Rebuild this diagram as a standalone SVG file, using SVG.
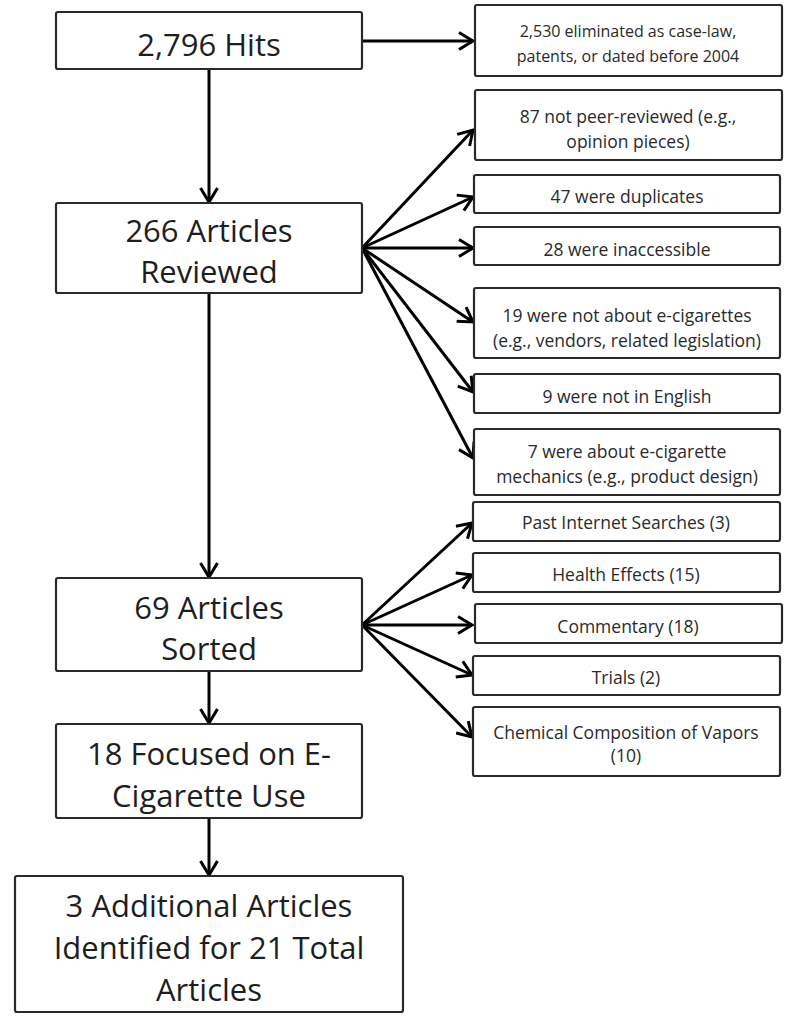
<svg xmlns="http://www.w3.org/2000/svg" width="800" height="1022" viewBox="0 0 800 1022">
<style>
.box{fill:#fff;stroke:#2a2a2a;stroke-width:2.2}
.big{font-family:"Open Sans","Liberation Sans",sans-serif;font-size:31px;fill:#1e1e1e;text-anchor:middle}
.sm{font-family:"Open Sans","Liberation Sans",sans-serif;font-size:17.5px;fill:#2a2a2a;text-anchor:middle}
.sm.n{font-size:16px}
.con line{stroke:#000;stroke-width:3;marker-end:url(#ah)}
</style>
<defs>
<marker id="ah" viewBox="0 0 20 20" refX="17" refY="10" markerUnits="userSpaceOnUse" markerWidth="20" markerHeight="20" orient="auto">
<path d="M3,1.5 L17,10 L3,18.5" fill="none" stroke="#000" stroke-width="3"/>
</marker>
</defs>
<rect width="800" height="1022" fill="#fff"/>
<g class="con">
<line x1="209" y1="69" x2="209" y2="202"/>
<line x1="209" y1="293" x2="209" y2="577"/>
<line x1="209" y1="671" x2="209" y2="723"/>
<line x1="209" y1="818" x2="209" y2="875"/>
<line x1="362" y1="41" x2="473" y2="41"/>
<line x1="362" y1="248" x2="473" y2="130"/>
<line x1="362" y1="248" x2="473" y2="197"/>
<line x1="362" y1="248" x2="473" y2="248"/>
<line x1="362" y1="248" x2="473" y2="322"/>
<line x1="362" y1="248" x2="473" y2="392"/>
<line x1="362" y1="248" x2="473" y2="458"/>
<line x1="362" y1="625" x2="472" y2="523"/>
<line x1="362" y1="625" x2="472" y2="575"/>
<line x1="362" y1="625" x2="472" y2="625"/>
<line x1="362" y1="625" x2="472" y2="675"/>
<line x1="362" y1="625" x2="472" y2="737"/>
</g>
<g id="n-hits"><rect class="box" x="56" y="12" width="306" height="57" rx="2"/><text class="big" x="209" y="56">2,796 Hits</text></g>
<g id="n-reviewed"><rect class="box" x="56" y="203" width="306" height="90" rx="2"/><text class="big" x="209" y="242">266 Articles</text><text class="big" x="209" y="283">Reviewed</text></g>
<g id="n-sorted"><rect class="box" x="56" y="578" width="306" height="93" rx="2"/><text class="big" x="209" y="619">69 Articles</text><text class="big" x="209" y="660">Sorted</text></g>
<g id="n-focused"><rect class="box" x="56" y="724" width="306" height="94" rx="2"/><text class="big" x="209" y="765">18 Focused on E-</text><text class="big" x="209" y="807">Cigarette Use</text></g>
<g id="n-total"><rect class="box" x="15" y="876" width="388" height="136" rx="2"/><text class="big" x="209" y="917">3 Additional Articles</text><text class="big" x="209" y="959">Identified for 21 Total</text><text class="big" x="209" y="1001">Articles</text></g>
<g id="r-eliminated"><rect class="box" x="475" y="5" width="307" height="71" rx="2"/><text class="sm n" x="628" y="37">2,530 eliminated as case-law,</text><text class="sm n" x="628" y="62">patents, or dated before 2004</text></g>
<g id="r-peer"><rect class="box" x="475" y="90" width="307" height="70" rx="2"/><text class="sm" x="628" y="123">87 not peer-reviewed (e.g.,</text><text class="sm" x="628" y="148">opinion pieces)</text></g>
<g id="r-dup"><rect class="box" x="474" y="175" width="306" height="38" rx="2"/><text class="sm" x="627" y="203">47 were duplicates</text></g>
<g id="r-inacc"><rect class="box" x="474" y="227" width="306" height="38" rx="2"/><text class="sm" x="627" y="256">28 were inaccessible</text></g>
<g id="r-notabout"><rect class="box" x="474" y="288" width="306" height="70" rx="2"/><text class="sm" x="627" y="322">19 were not about e-cigarettes</text><text class="sm" x="627" y="347">(e.g., vendors, related legislation)</text></g>
<g id="r-english"><rect class="box" x="474" y="374" width="306" height="39" rx="2"/><text class="sm" x="627" y="403">9 were not in English</text></g>
<g id="r-mech"><rect class="box" x="474" y="429" width="306" height="66" rx="2"/><text class="sm" x="627" y="458">7 were about e-cigarette</text><text class="sm" x="627" y="483">mechanics (e.g., product design)</text></g>
<g id="r-past"><rect class="box" x="473" y="502" width="307" height="39" rx="2"/><text class="sm" x="626" y="529">Past Internet Searches (3)</text></g>
<g id="r-health"><rect class="box" x="473" y="553" width="307" height="39" rx="2"/><text class="sm" x="626" y="581">Health Effects (15)</text></g>
<g id="r-comm"><rect class="box" x="475" y="604" width="307" height="39" rx="2"/><text class="sm" x="628" y="633">Commentary (18)</text></g>
<g id="r-trials"><rect class="box" x="473" y="656" width="307" height="39" rx="2"/><text class="sm" x="626" y="684">Trials (2)</text></g>
<g id="r-chem"><rect class="box" x="473" y="707" width="307" height="69" rx="2"/><text class="sm" x="626" y="739">Chemical Composition of Vapors</text><text class="sm" x="626" y="762">(10)</text></g>
</svg>
